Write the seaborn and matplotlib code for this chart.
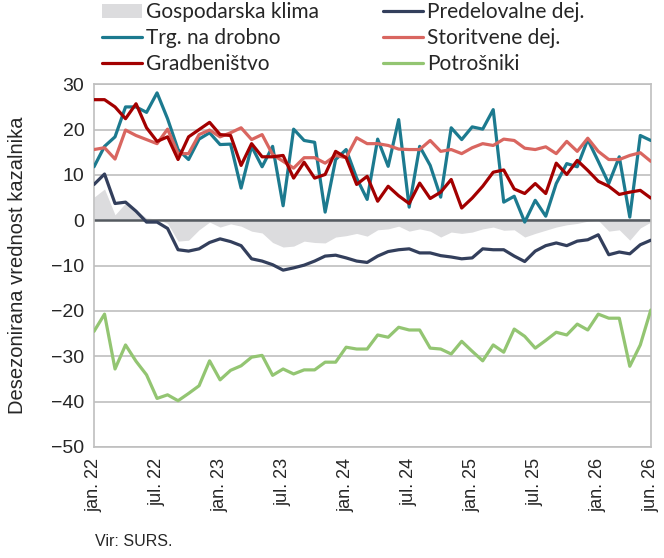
import numpy as np
import pandas as pd
import matplotlib
matplotlib.use("Agg")
import matplotlib.pyplot as plt
import seaborn as sns
from matplotlib.patches import Patch
from matplotlib.lines import Line2D

# monthly values, jan. 2022 - jun. 2026
gospodarska_klima = [5.1, 6.9, 1.2, 3.8, 2.2, 0.5, 0.3, -0.7, -4.6, -4.4, -2.1, -0.4, -1.5, -0.8,
                     -1.3, -2.4, -2.8, -4.9, -5.9, -5.7, -4.6, -4.9, -5.0, -3.7, -3.4, -2.9, -3.5,
                     -2.1, -1.9, -1.3, -2.4, -1.9, -2.4, -3.7, -2.6, -2.9, -2.6, -1.9, -1.5, -2.2,
                     -2.1, -3.7, -2.9, -2.2, -1.5, -1.0, -0.7, -0.2, 0.0, -2.4, -2.1, -4.4, -1.7, -0.4]
predelovalne = [7.9, 10.2, 3.7, 4.0, 2.0, -0.4, -0.4, -1.8, -6.5, -6.8, -6.3, -4.9, -4.1, -4.7,
                -5.6, -8.5, -9.0, -9.8, -11.0, -10.5, -9.9, -9.0, -7.9, -7.7, -8.3, -9.0, -9.3,
                -7.9, -6.9, -6.5, -6.3, -7.2, -7.2, -7.8, -8.1, -8.5, -8.3, -6.3, -6.5, -6.5,
                -7.9, -9.1, -6.8, -5.6, -5.0, -5.6, -4.6, -4.3, -3.2, -7.6, -7.0, -7.4, -5.4, -4.4]
trgovina = [11.8, 16.3, 18.4, 25.0, 25.0, 23.8, 28.1, 22.4, 15.6, 13.4, 17.9, 19.3, 16.7, 16.8,
            7.1, 16.3, 11.8, 16.3, 3.2, 20.1, 17.6, 17.2, 1.8, 13.4, 15.6, 9.3, 4.6,
            17.9, 11.9, 22.2, 2.9, 16.3, 12.1, 5.1, 20.4, 17.8, 20.6, 20.1, 24.4, 4.0,
            5.3, -0.4, 4.4, 0.9, 8.1, 12.5, 11.8, 17.8, 13.0, 8.1, 14.0, 0.7, 18.7, 17.6]
storitve = [15.6, 16.0, 13.5, 19.9, 18.7, 17.8, 16.9, 20.1, 14.7, 14.7, 18.9, 19.9, 18.4, 19.3,
            20.4, 17.8, 18.9, 14.5, 13.0, 11.5, 13.8, 13.8, 12.6, 14.3, 13.8, 18.2, 16.9,
            16.9, 16.5, 15.7, 15.6, 15.6, 17.6, 15.2, 15.6, 14.7, 16.0, 16.9, 16.5, 17.9,
            17.6, 15.9, 15.6, 16.2, 14.7, 17.4, 15.2, 18.1, 15.2, 13.4, 13.4, 14.3, 14.9, 13.0]
gradbenistvo = [26.6, 26.6, 25.0, 22.4, 25.7, 20.4, 17.4, 18.4, 13.4, 18.4, 20.0, 21.6, 18.9, 18.7,
                12.1, 16.9, 14.0, 14.0, 14.3, 9.3, 12.8, 9.3, 10.1, 15.2, 13.8, 7.9, 9.7,
                4.2, 7.5, 5.4, 3.7, 8.2, 4.8, 6.2, 9.0, 2.7, 4.9, 7.5, 10.6, 11.1,
                6.9, 5.9, 8.1, 5.9, 12.6, 10.1, 13.2, 11.0, 8.6, 7.5, 5.7, 6.2, 6.6, 4.9]
potrosniki = [-24.5, -20.7, -32.8, -27.5, -31.1, -34.1, -39.3, -38.5, -39.8, -38.2, -36.5, -31.0,
              -35.2, -33.1, -32.1, -30.2, -29.8, -34.2, -32.8, -33.9, -33.0, -33.0, -31.3, -31.3,
              -28.0, -28.4, -28.4, -25.3, -25.8, -23.6, -24.2, -24.2, -28.2, -28.4, -29.5, -26.7,
              -28.9, -31.0, -27.5, -29.1, -24.0, -25.6, -28.2, -26.5, -24.7, -25.3, -22.9, -24.2,
              -20.7, -21.6, -21.6, -32.2, -27.5, -19.8]

tick_pos = [0, 6, 12, 18, 24, 30, 36, 42, 48, 53]
tick_labels = ["jan. 22", "jul. 22", "jan. 23", "jul. 23", "jan. 24", "jul. 24",
               "jan. 25", "jul. 25", "jan. 26", "jun. 26"]

months = np.arange(len(gospodarska_klima))
lines = {
    "Predelovalne dej.": (predelovalne, "#333f5c"),
    "Trg. na drobno": (trgovina, "#1c7a8f"),
    "Storitvene dej.": (storitve, "#d96660"),
    "Gradbeništvo": (gradbenistvo, "#a30000"),
    "Potrošniki": (potrosniki, "#93c572"),
}

sns.set_style("white")
plt.rcParams["font.family"] = ["Liberation Sans", "DejaVu Sans"]

fig = plt.figure(figsize=(6.64, 5.58), dpi=100)
ax = fig.add_axes([0.1416, 0.199, 0.8385, 0.650])

ax.fill_between(months, 0, gospodarska_klima, color="#dcdcde", lw=0, zorder=1)
ax.axhline(0, color="#555a60", lw=1.8, zorder=2)

for name, (vals, col) in lines.items():
    df = pd.DataFrame({"m": months, "v": vals})
    sns.lineplot(data=df, x="m", y="v", ax=ax, color=col, lw=2.3, zorder=3)

ax.set_xlim(0, 53)
ax.set_ylim(-50, 30)
ax.set_yticks(range(-50, 31, 10))
ax.set_xticks(tick_pos)
ax.set_xticklabels(tick_labels, rotation=90, fontsize=13)
ax.tick_params(axis="y", labelsize=14, length=0, pad=7)
ax.tick_params(axis="x", length=0, pad=8)
ax.grid(axis="y", color="#bfbfbf", lw=1.2, zorder=0)
ax.set_axisbelow(True)
for s in ax.spines.values():
    s.set_color("#bfbfbf")
    s.set_linewidth(1.2)
ax.set_xlabel("")
ax.set_ylabel("Desezonirana vrednost kazalnika", fontsize=14.5, labelpad=17)

# legend, two columns above the plot
handles = [Patch(color="#dcdcde", lw=0),
           Line2D([], [], color=lines["Trg. na drobno"][1], lw=2.3),
           Line2D([], [], color=lines["Gradbeništvo"][1], lw=2.3),
           Line2D([], [], color=lines["Predelovalne dej."][1], lw=2.3),
           Line2D([], [], color=lines["Storitvene dej."][1], lw=2.3),
           Line2D([], [], color=lines["Potrošniki"][1], lw=2.3)]
labels = ["Gospodarska klima", "Trg. na drobno", "Gradbeništvo",
          "Predelovalne dej.", "Storitvene dej.", "Potrošniki"]
fig.legend(handles, labels, ncol=2, loc="upper left", bbox_to_anchor=(0.135, 1.018),
           frameon=False, prop={"family": "Lato", "size": 15}, handlelength=1.9,
           handletextpad=0.2, columnspacing=3.1, labelspacing=0.28, borderaxespad=0.2)

fig.text(0.143, 0.022, "Vir: SURS.", fontsize=11.5, ha="left")

fig.savefig("out.png", dpi=100)
